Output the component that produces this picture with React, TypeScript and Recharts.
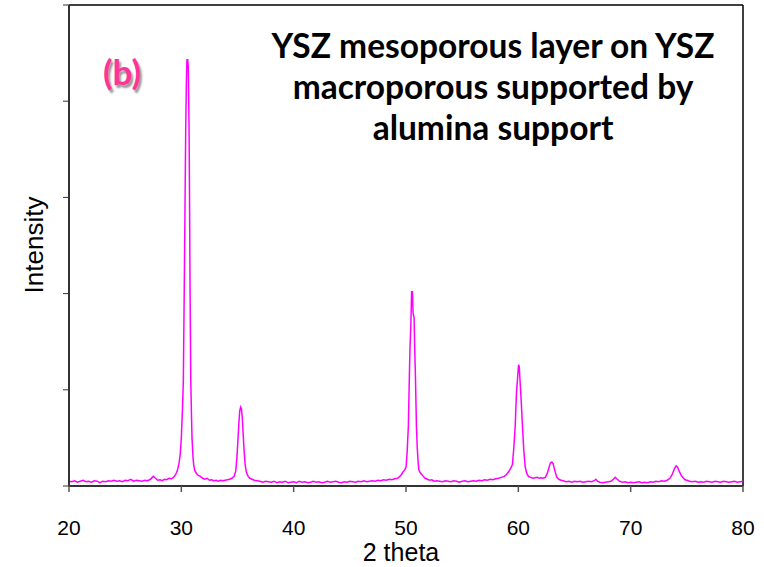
import { LineChart, Line, XAxis, YAxis, ReferenceLine } from 'recharts'

// 2 theta (deg)
const twoTheta = [
  20.0, 20.25, 20.5, 20.75, 21.0, 21.25, 21.5, 21.75, 22.0, 22.25, 22.5, 22.75,
  23.0, 23.25, 23.5, 23.75, 24.0, 24.25, 24.5, 24.75, 25.0, 25.25, 25.5, 25.75,
  26.0, 26.25, 26.5, 26.75, 27.0, 27.25, 27.5, 27.7, 27.9, 28.1, 28.3, 28.5,
  28.7, 28.9, 29.1, 29.3, 29.5, 29.65, 29.8, 29.9, 30.0, 30.1, 30.18, 30.27,
  30.35, 30.39, 30.45, 30.5, 30.57, 30.62, 30.69, 30.74, 30.77, 30.84, 30.9, 30.95,
  31.04, 31.1, 31.2, 31.35, 31.5, 31.7, 31.9, 32.1, 32.3, 32.5, 32.7, 32.9,
  33.1, 33.3, 33.5, 33.7, 33.9, 34.1, 34.3, 34.5, 34.7, 34.85, 34.95, 35.05,
  35.12, 35.2, 35.28, 35.35, 35.42, 35.5, 35.58, 35.68, 35.8, 35.95, 36.1, 36.3,
  36.5, 36.75, 37.0, 37.25, 37.5, 37.75, 38.0, 38.25, 38.5, 38.75, 39.0, 39.25,
  39.5, 39.75, 40.0, 40.25, 40.5, 40.75, 41.0, 41.25, 41.5, 41.75, 42.0, 42.25,
  42.5, 42.75, 43.0, 43.25, 43.5, 43.75, 44.0, 44.25, 44.5, 44.75, 45.0, 45.25,
  45.5, 45.75, 46.0, 46.25, 46.5, 46.75, 47.0, 47.25, 47.5, 47.75, 48.0, 48.25,
  48.5, 48.75, 49.0, 49.25, 49.45, 49.6, 49.75, 49.9, 50.01, 50.1, 50.21, 50.3,
  50.36, 50.43, 50.5, 50.57, 50.63, 50.72, 50.78, 50.84, 50.93, 51.0, 51.08, 51.14,
  51.25, 51.4, 51.55, 51.7, 51.9, 52.1, 52.3, 52.5, 52.75, 53.0, 53.25, 53.5,
  53.75, 54.0, 54.25, 54.5, 54.75, 55.0, 55.25, 55.5, 55.75, 56.0, 56.25, 56.5,
  56.75, 57.0, 57.25, 57.5, 57.75, 58.0, 58.25, 58.5, 58.75, 58.95, 59.15, 59.3,
  59.47, 59.6, 59.72, 59.83, 59.95, 60.02, 60.08, 60.15, 60.22, 60.3, 60.37, 60.48,
  60.61, 60.75, 60.9, 61.1, 61.3, 61.5, 61.7, 61.85, 62.0, 62.2, 62.4, 62.54,
  62.7, 62.85, 62.98, 63.1, 63.25, 63.43, 63.6, 63.8, 64.0, 64.25, 64.5, 64.75,
  65.0, 65.25, 65.5, 65.75, 66.0, 66.25, 66.5, 66.75, 66.9, 67.05, 67.25, 67.5,
  67.75, 68.0, 68.25, 68.45, 68.62, 68.8, 69.0, 69.25, 69.5, 69.75, 70.0, 70.25,
  70.5, 70.75, 71.0, 71.25, 71.5, 71.75, 72.0, 72.25, 72.5, 72.75, 73.0, 73.25,
  73.5, 73.7, 73.9, 74.05, 74.15, 74.3, 74.5, 74.7, 74.85, 75.0, 75.25, 75.5,
  75.75, 76.0, 76.25, 76.5, 76.75, 77.0, 77.25, 77.5, 77.75, 78.0, 78.25, 78.5,
  78.75, 79.0, 79.25, 79.5, 79.75, 80.0,
]

// intensity (a.u.), same order as twoTheta
const intensity = [
  0.05, 0.045, 0.055, 0.04, 0.05, 0.06, 0.045, 0.05, 0.04, 0.055, 0.05, 0.035,
  0.05, 0.045, 0.055, 0.05, 0.06, 0.05, 0.055, 0.045, 0.06, 0.055, 0.07, 0.05,
  0.06, 0.055, 0.05, 0.06, 0.055, 0.07, 0.1, 0.08, 0.06, 0.065, 0.055, 0.07,
  0.065, 0.08, 0.075, 0.09, 0.12, 0.16, 0.24, 0.33, 0.5, 0.8, 1.1, 2.17,
  3.2, 3.7, 4.2, 4.43, 4.43, 4.35, 3.7, 2.8, 2.17, 1.1, 0.75, 0.5,
  0.3, 0.22, 0.16, 0.13, 0.11, 0.1, 0.08, 0.07, 0.08, 0.06, 0.065, 0.055,
  0.06, 0.05, 0.06, 0.055, 0.06, 0.065, 0.07, 0.08, 0.1, 0.16, 0.3, 0.5,
  0.65, 0.78, 0.82, 0.8, 0.72, 0.55, 0.38, 0.22, 0.14, 0.1, 0.08, 0.07,
  0.06, 0.055, 0.05, 0.04, 0.05, 0.045, 0.04, 0.05, 0.035, 0.045, 0.04, 0.05,
  0.035, 0.04, 0.045, 0.035, 0.05, 0.04, 0.045, 0.035, 0.04, 0.05, 0.04, 0.045,
  0.035, 0.04, 0.05, 0.04, 0.045, 0.05, 0.04, 0.035, 0.045, 0.04, 0.05, 0.045,
  0.04, 0.05, 0.045, 0.055, 0.045, 0.05, 0.055, 0.05, 0.06, 0.055, 0.065, 0.06,
  0.07, 0.065, 0.075, 0.08, 0.1, 0.12, 0.15, 0.17, 0.2, 0.35, 0.62, 1.14,
  1.45, 1.66, 2.02, 2.02, 1.8, 1.75, 1.4, 1.14, 0.62, 0.4, 0.25, 0.17,
  0.14, 0.12, 0.1, 0.08, 0.07, 0.06, 0.065, 0.05, 0.055, 0.05, 0.045, 0.055,
  0.05, 0.045, 0.055, 0.05, 0.04, 0.05, 0.055, 0.045, 0.05, 0.055, 0.05, 0.06,
  0.055, 0.065, 0.06, 0.07, 0.065, 0.075, 0.08, 0.09, 0.1, 0.12, 0.15, 0.18,
  0.22, 0.4, 0.62, 0.96, 1.15, 1.26, 1.24, 1.1, 0.96, 0.78, 0.62, 0.38,
  0.2, 0.13, 0.1, 0.09, 0.08, 0.085, 0.09, 0.08, 0.085, 0.08, 0.09, 0.12,
  0.18, 0.24, 0.25, 0.23, 0.16, 0.09, 0.07, 0.06, 0.055, 0.045, 0.05, 0.04,
  0.05, 0.045, 0.05, 0.04, 0.045, 0.05, 0.045, 0.055, 0.07, 0.05, 0.04, 0.035,
  0.04, 0.045, 0.05, 0.07, 0.09, 0.07, 0.05, 0.04, 0.045, 0.035, 0.04, 0.035,
  0.04, 0.045, 0.035, 0.04, 0.035, 0.045, 0.04, 0.05, 0.045, 0.055, 0.05, 0.06,
  0.08, 0.12, 0.18, 0.21, 0.2, 0.16, 0.11, 0.08, 0.065, 0.06, 0.05, 0.045,
  0.05, 0.04, 0.045, 0.04, 0.05, 0.045, 0.04, 0.05, 0.045, 0.04, 0.05, 0.045,
  0.04, 0.045, 0.05, 0.04, 0.045, 0.05,
]

const xTicks = [20, 30, 40, 50, 60, 70, 80]
const yTicks = [0, 1, 2, 3, 4, 5]

const data = twoTheta.map((t, i) => ({ t, v: intensity[i] }))

const arial = '"Liberation Sans", Arial, sans-serif'

export default function App() {
  return (
    <div style={{ position: 'absolute', left: 0, top: 0, width: 764, height: 567, background: '#fff' }}>
      <LineChart width={764} height={567} data={data} margin={{ top: 5, right: 21, bottom: 0, left: 0 }}>
        <XAxis
          dataKey="t"
          type="number"
          domain={[20, 80]}
          ticks={xTicks}
          height={81}
          tickSize={6}
          tickMargin={28}
          stroke="#333"
          strokeWidth={2}
          tick={{ fontSize: 21, fill: '#000', fontFamily: arial }}
          tickLine={{ stroke: '#555', strokeWidth: 1.5 }}
        />
        <YAxis
          type="number"
          domain={[0, 5]}
          ticks={yTicks}
          width={69}
          tickSize={6}
          stroke="#333"
          strokeWidth={2}
          tickFormatter={() => ''}
          tickLine={{ stroke: '#333', strokeWidth: 1 }}
        />
        <ReferenceLine y={5} stroke="#000" strokeWidth={1.5} />
        <ReferenceLine x={80} stroke="#000" strokeWidth={1.5} />
        <Line
          type="linear"
          dataKey="v"
          stroke="#ff00ff"
          strokeWidth={1.5}
          dot={false}
          isAnimationActive={false}
        />
      </LineChart>

      <div
        style={{
          position: 'absolute', left: 193, top: 25, width: 600,
          textAlign: 'center', fontFamily: 'Lato, sans-serif', fontWeight: 700,
          fontSize: 33.5, lineHeight: '41px', color: '#000',
        }}
      >
        YSZ mesoporous layer on YSZ<br />
        macroporous supported by<br />
        alumina support
      </div>

      <div
        style={{
          position: 'absolute', left: 103, top: 50, fontFamily: 'Lato, sans-serif',
          fontWeight: 700, fontSize: 35, color: '#ff3399',
          textShadow: '2px 3px 2px #999',
        }}
      >
        (b)
      </div>

      <div
        style={{
          position: 'absolute', left: 34, top: 245, transform: 'translate(-50%, -50%) rotate(-90deg)',
          fontFamily: arial, fontSize: 26, color: '#000', whiteSpace: 'nowrap',
        }}
      >
        Intensity
      </div>

      <div
        style={{
          position: 'absolute', left: 401, top: 552, transform: 'translate(-50%, -50%)',
          fontFamily: arial, fontSize: 25, color: '#000', whiteSpace: 'nowrap',
        }}
      >
        2 theta
      </div>
    </div>
  )
}
